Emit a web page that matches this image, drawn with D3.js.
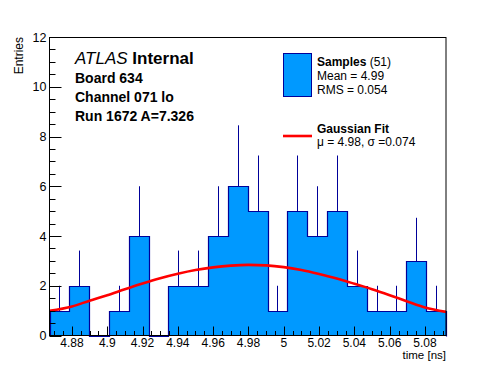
<!DOCTYPE html>
<html lang="en">
<head>
<meta charset="utf-8">
<title>Samples histogram</title>
<script src="https://cdn.jsdelivr.net/npm/d3@7"></script>
<style>
  body { margin: 0; background: #fff; }
  text { font-family: "Liberation Sans", Arial, Helvetica, sans-serif; }
</style>
</head>
<body>
<div id="chart"></div>
<script>
// histogram: 20 bins over the time range
var binLo = 4.8673;
var binHi = 5.0919;
var counts = [1, 2, 0, 1, 4, 0, 2, 2, 4, 6, 5, 1, 5, 4, 5, 2, 1, 1, 3, 1];

// gaussian fit curve
var fitX = [4.8673, 4.88, 4.89, 4.90, 4.91, 4.92, 4.93, 4.94, 4.95, 4.96, 4.97, 4.98,
            4.99, 5.00, 5.01, 5.02, 5.03, 5.04, 5.05, 5.06, 5.07, 5.08, 5.0919];
var fitY = [0.99, 1.17, 1.40, 1.62, 1.86, 2.09, 2.30, 2.48, 2.63, 2.74, 2.81, 2.84,
            2.82, 2.75, 2.63, 2.47, 2.29, 2.08, 1.86, 1.62, 1.37, 1.13, 0.95];

var xTicks = [4.88, 4.90, 4.92, 4.94, 4.96, 4.98, 5.00, 5.02, 5.04, 5.06, 5.08];
var yTicks = [0, 2, 4, 6, 8, 10, 12];

var infoLines = ["Board 634", "Channel 071 lo", "Run 1672 A=7.326"];

var w = 496, h = 372;
var fLeft = 49.5, fRight = 446, fTop = 37, fBottom = 335.5;

var svg = d3.select("#chart").append("svg")
    .attr("width", w).attr("height", h);

svg.append("rect").attr("width", w).attr("height", h).attr("fill", "#fff");

var xScale = d3.scaleLinear().domain([binLo, binHi]).range([fLeft, fRight]);
var yScale = d3.scaleLinear().domain([0, 12]).range([fBottom, fTop]);

var nb = counts.length;
var bw = (binHi - binLo) / nb;
var bins = counts.map(function(c, i) {
    return { x0: binLo + i * bw, x1: binLo + (i + 1) * bw, n: c };
});

var fill = "#0099ff", edge = "#000099";

// error bars (drawn first, histogram fill covers the lower half)
svg.selectAll("line.err")
    .data(bins.filter(function(d) { return d.n > 0; }))
    .enter().append("line")
    .attr("class", "err")
    .attr("x1", function(d) { return Math.round(xScale((d.x0 + d.x1) / 2)) + 0.5; })
    .attr("x2", function(d) { return Math.round(xScale((d.x0 + d.x1) / 2)) + 0.5; })
    .attr("y1", function(d) { return yScale(Math.max(0, d.n - Math.sqrt(d.n))); })
    .attr("y2", function(d) { return yScale(d.n + Math.sqrt(d.n)); })
    .attr("stroke", edge).attr("stroke-width", 1);

// step outline points
var steps = [];
bins.forEach(function(d) {
    steps.push([d.x0, d.n]);
    steps.push([d.x1, d.n]);
});

var area = d3.area()
    .x(function(d) { return Math.round(xScale(d[0])) + 0.5; })
    .y0(yScale(0))
    .y1(function(d) { return Math.round(yScale(d[1])) + 0.5; });

svg.append("path").datum(steps)
    .attr("d", area)
    .attr("fill", fill);

var stepLine = d3.line()
    .x(function(d) { return Math.round(xScale(d[0])) + 0.5; })
    .y(function(d) { return Math.round(yScale(d[1])) + 0.5; });

svg.append("path").datum([[binLo, 0]].concat(steps).concat([[binHi, 0]]))
    .attr("d", stepLine)
    .attr("fill", "none")
    .attr("stroke", edge)
    .attr("stroke-width", 1.2);

// fit curve
var fitLine = d3.line()
    .x(function(d) { return xScale(d[0]); })
    .y(function(d) { return yScale(d[1]); })
    .curve(d3.curveMonotoneX);

svg.append("path").datum(fitX.map(function(x, i) { return [x, fitY[i]]; }))
    .attr("d", fitLine)
    .attr("fill", "none")
    .attr("stroke", "#ff0000")
    .attr("stroke-width", 2.6);

// frame
svg.append("rect")
    .attr("x", fLeft).attr("y", fTop + 0.5)
    .attr("width", fRight - fLeft).attr("height", fBottom - fTop - 0.5)
    .attr("fill", "none").attr("stroke", "#000").attr("stroke-width", 1);

// y axis ticks (inside)
var yMinor = d3.range(0, 12.01, 0.5);
svg.selectAll("line.ytick")
    .data(yMinor)
    .enter().append("line")
    .attr("class", "ytick")
    .attr("x1", fLeft)
    .attr("x2", function(d) { return fLeft + (d % 2 === 0 ? 12 : 6); })
    .attr("y1", function(d) { return Math.round(yScale(d)) + 0.5; })
    .attr("y2", function(d) { return Math.round(yScale(d)) + 0.5; })
    .attr("stroke", "#000");

svg.selectAll("text.ylab")
    .data(yTicks)
    .enter().append("text")
    .attr("class", "ylab")
    .attr("x", fLeft - 3)
    .attr("y", function(d) { return yScale(d) + 4.5; })
    .attr("text-anchor", "end")
    .attr("font-size", "12.5px")
    .text(function(d) { return d; });

// x axis ticks (inside)
var xMinor = d3.range(4.87, 5.0919, 0.005).filter(function(v) { return v >= binLo; });
svg.selectAll("line.xtick")
    .data(xMinor)
    .enter().append("line")
    .attr("class", "xtick")
    .attr("x1", function(d) { return Math.round(xScale(d)) + 0.5; })
    .attr("x2", function(d) { return Math.round(xScale(d)) + 0.5; })
    .attr("y1", fBottom)
    .attr("y2", function(d) {
        var major = Math.abs(Math.round(d / 0.02) * 0.02 - d) < 1e-6;
        return fBottom - (major ? 9 : 4.5);
    })
    .attr("stroke", "#000");

svg.selectAll("text.xlab")
    .data(xTicks)
    .enter().append("text")
    .attr("class", "xlab")
    .attr("x", function(d) { return xScale(d); })
    .attr("y", fBottom + 11.5)
    .attr("text-anchor", "middle")
    .attr("font-size", "12px")
    .text(function(d) { return d3.format("")(+d.toFixed(2)); });

// axis titles
svg.append("text")
    .attr("x", fRight).attr("y", 358.5)
    .attr("text-anchor", "end")
    .attr("font-size", "11.5px")
    .text("time [ns]");

svg.append("text")
    .attr("transform", "translate(23,37) rotate(-90)")
    .attr("text-anchor", "end")
    .attr("font-size", "12px")
    .text("Entries");

// ATLAS label + info
var atlas = svg.append("text").attr("x", 75).attr("y", 64).attr("font-size", "17px");
atlas.append("tspan").attr("font-style", "italic").text("ATLAS");
atlas.append("tspan").attr("font-weight", "bold").text(" Internal");

svg.selectAll("text.info")
    .data(infoLines)
    .enter().append("text")
    .attr("class", "info")
    .attr("x", 75)
    .attr("y", function(d, i) { return 83 + i * 19; })
    .attr("font-size", "14px")
    .attr("font-weight", "bold")
    .text(function(d) { return d; });

// legend
svg.append("rect")
    .attr("x", 283.5).attr("y", 53.5).attr("width", 28).attr("height", 43)
    .attr("fill", fill).attr("stroke", edge).attr("stroke-width", 1);

var l1 = svg.append("text").attr("x", 317).attr("y", 66).attr("font-size", "12px");
l1.append("tspan").attr("font-weight", "bold").text("Samples");
l1.append("tspan").text(" (51)");
svg.append("text").attr("x", 317).attr("y", 80).attr("font-size", "12px").text("Mean = 4.99");
svg.append("text").attr("x", 317).attr("y", 94).attr("font-size", "12px").text("RMS = 0.054");

svg.append("line")
    .attr("x1", 283).attr("x2", 312).attr("y1", 136).attr("y2", 136)
    .attr("stroke", "#ff0000").attr("stroke-width", 2.6);
svg.append("text").attr("x", 317).attr("y", 133).attr("font-size", "12px")
    .attr("font-weight", "bold").text("Gaussian Fit");
svg.append("text").attr("x", 317).attr("y", 146).attr("font-size", "12px")
    .text("\u03bc = 4.98, \u03c3 =0.074");
</script>
</body>
</html>
